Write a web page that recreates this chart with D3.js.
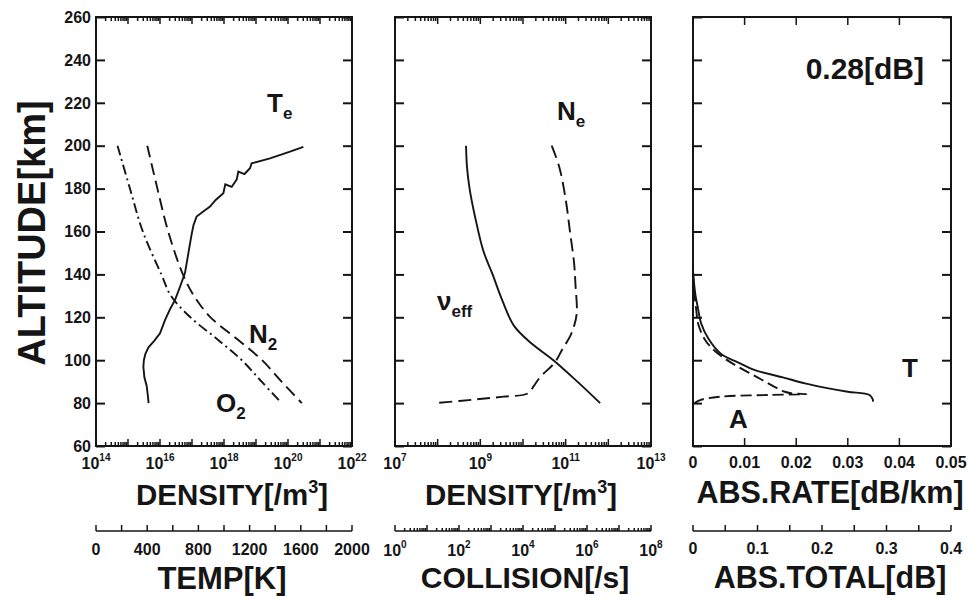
<!DOCTYPE html>
<html>
<head>
<meta charset="utf-8">
<script src="https://cdn.jsdelivr.net/npm/d3@7"></script>
<style>
    body { margin: 0; background: #fff; }
    svg text { font-family: "Liberation Sans", Arial, Helvetica, sans-serif; font-weight: bold; fill: #151515; }
</style>
</head>
<body>
<div id="chart"></div>
<script>
// altitude [km], shared by all three panels
const altTicks = [60, 80, 100, 120, 140, 160, 180, 200, 220, 240, 260];

// panel 1 : N2 / O2 density [/m3] and electron temperature [K]
const n2Alt = [200, 180, 160, 140, 130, 120, 110, 100, 90, 80];
const n2Dens = [4.0e15, 8.3e15, 1.8e16, 5.2e16, 1.15e17, 3.8e17, 2.5e18, 1.55e19, 6.3e19, 2.7e20];
const o2Alt = [200, 180, 160, 140, 130, 120, 110, 100, 90, 80];
const o2Dens = [4.7e14, 1.15e15, 2.9e15, 1.1e16, 2.2e16, 8.9e16, 5.9e17, 3.6e18, 1.5e19, 6.3e19];
const teAlt = [80, 84, 88, 92, 97, 100, 103, 106, 109, 112.5, 118.7, 124, 128, 134, 140.6, 150, 159, 163, 167, 169, 171.6,
    174.7, 177.8, 182, 180.8, 184.2, 187.9, 186.8, 189.5, 191.8, 194.1, 197.2, 199.5];
const teTemp = [411, 404, 396, 378, 370, 374, 386, 410, 455, 500, 539, 580, 617, 655, 695, 722, 748, 762, 786, 830, 891,
    935, 995, 1010, 1060, 1099, 1112, 1160, 1203, 1216, 1359, 1516, 1620];

// panel 2 : electron density [/m3] and collision frequency [/s]
const neAlt = [200, 190, 175, 160, 145, 135, 122, 116, 111, 105, 99, 92, 88, 84.5, 83, 82, 81, 80];
const neDens = [4.7e10, 7.1e10, 1.0e11, 1.26e11, 1.58e11, 1.7e11, 1.82e11, 1.58e11, 1.26e11, 8.3e10, 5.6e10,
    2.5e10, 1.8e10, 1.3e10, 3.5e9, 1.1e9, 3.2e8, 8.7e7];
const nuAlt = [200, 190, 180, 167, 151, 140, 128, 116, 108, 100, 90, 80];
const nuColl = [166, 178, 214, 316, 575, 1.12e3, 2.24e3, 5.25e3, 1.78e4, 8.9e4, 5.0e5, 2.57e6];

// panel 3 : absorption rate [dB/km], total (T) and A
const totAlt = [142, 136, 130, 125, 117, 110, 103, 99, 95.4, 92, 89.2, 87, 85.3, 83.8, 82, 80.7];
const totRate = [0, 0.0002, 0.0005, 0.0009, 0.0016, 0.003, 0.0054, 0.0087, 0.012, 0.0174, 0.0217, 0.026, 0.030,
    0.0342, 0.0348, 0.0349];
const aAlt = [140, 130, 124, 117, 110, 106, 101, 97, 92, 87.6, 85.3, 84.6, 84.2, 83.8, 83, 81.5, 80];
const aRate = [0, 0.0003, 0.0006, 0.001, 0.0022, 0.0035, 0.006, 0.0087, 0.0125, 0.0158, 0.0178, 0.019, 0.022,
    0.015, 0.0054, 0.0015, 0.0003];

// tick labels
const den1Labels = [1e14, 1e16, 1e18, 1e20, 1e22];
const den2Labels = [1e7, 1e9, 1e11, 1e13];
const collLabels = [1e0, 1e2, 1e4, 1e6, 1e8];
const tempTicks = [0, 200, 400, 600, 800, 1000, 1200, 1400, 1600, 1800, 2000];
const tempLabels = [0, 400, 800, 1200, 1600, 2000];
const rateTicks = [0.01, 0.02, 0.03, 0.04];
const rateLabels = [0, 0.01, 0.02, 0.03, 0.04, 0.05];
const totTicks = [0, 0.05, 0.1, 0.15, 0.2, 0.25, 0.3, 0.35, 0.4];
const totLabels = [0, 0.1, 0.2, 0.3, 0.4];
const totalText = "0.28[dB]";


let width = 971, height = 596;
let plotTop = 17, plotBottom = 446, axis2Y = 531;

let svg = d3.select("#chart").append("svg")
    .attr("width", width)
    .attr("height", height);

let y = d3.scaleLinear().domain([60, 260]).range([plotBottom, plotTop]);

let panels = [
    { x0: 96, x1: 352 },
    { x0: 395, x1: 651 },
    { x0: 693, x1: 951 }
];

let xDen1 = d3.scaleLog().domain([1e14, 1e22]).range([panels[0].x0, panels[0].x1]);
let xTemp = d3.scaleLinear().domain([0, 2000]).range([panels[0].x0, panels[0].x1]);
let xDen2 = d3.scaleLog().domain([1e7, 1e13]).range([panels[1].x0, panels[1].x1]);
let xColl = d3.scaleLog().domain([1, 1e8]).range([panels[1].x0, panels[1].x1]);
let xRate = d3.scaleLinear().domain([0, 0.05]).range([panels[2].x0, panels[2].x1]);
let xTot = d3.scaleLinear().domain([0, 0.4]).range([panels[2].x0, panels[2].x1]);

const ink = "#151515";

// frames and altitude ticks
panels.forEach(p => {
    svg.append("rect")
        .attr("x", p.x0).attr("y", plotTop)
        .attr("width", p.x1 - p.x0).attr("height", plotBottom - plotTop)
        .attr("fill", "none").attr("stroke", ink).attr("stroke-width", 2);

    svg.append("g")
        .attr("transform", `translate(${p.x0},0)`)
        .call(d3.axisLeft(y).tickValues(altTicks).tickSize(-9).tickFormat(""))
        .call(g => g.select(".domain").remove());

    svg.append("g")
        .attr("transform", `translate(${p.x1},0)`)
        .call(d3.axisRight(y).tickValues(altTicks).tickSize(-9).tickFormat(""))
        .call(g => g.select(".domain").remove());
});
svg.selectAll(".tick line").attr("stroke", ink).attr("stroke-width", 2);

// altitude labels
svg.append("g").selectAll("text")
    .data(altTicks)
    .enter().append("text")
    .attr("x", 91)
    .attr("y", d => y(d))
    .attr("dy", "0.36em")
    .attr("text-anchor", "end")
    .style("font-size", "16px")
    .text(d => d);

svg.append("text")
    .attr("transform", `translate(45, 233) rotate(-90)`)
    .attr("text-anchor", "middle")
    .style("font-size", "38px")
    .text("ALTITUDE[km]");

function isDecade(d) {
    let l = Math.log10(d);
    return Math.abs(l - Math.round(l)) < 1e-6;
}

// log ticks on top and bottom frame edges
function logFrameTicks(scale) {
    let ticks = scale.ticks();
    svg.append("g").selectAll("line")
        .data(ticks)
        .enter().append("line")
        .attr("x1", d => scale(d)).attr("x2", d => scale(d))
        .attr("y1", plotTop).attr("y2", d => plotTop + (isDecade(d) ? 7 : 4))
        .attr("stroke", ink).attr("stroke-width", 1.5);
    svg.append("g").selectAll("line")
        .data(ticks)
        .enter().append("line")
        .attr("x1", d => scale(d)).attr("x2", d => scale(d))
        .attr("y1", plotBottom).attr("y2", d => plotBottom - (isDecade(d) ? 7 : 4))
        .attr("stroke", ink).attr("stroke-width", 1.5);
}
logFrameTicks(xDen1);
logFrameTicks(xDen2);

// linear ticks on the rate panel
[plotTop, plotBottom].forEach(edge => {
    svg.append("g").selectAll("line")
        .data(rateTicks)
        .enter().append("line")
        .attr("x1", d => xRate(d)).attr("x2", d => xRate(d))
        .attr("y1", edge).attr("y2", edge + (edge === plotTop ? 8 : -8))
        .attr("stroke", ink).attr("stroke-width", 1.5);
});

// labels with powers of ten
function powLabels(scale, values, yPos) {
    let t = svg.append("g").selectAll("text")
        .data(values)
        .enter().append("text")
        .attr("x", d => scale(d))
        .attr("y", yPos)
        .attr("text-anchor", "middle")
        .style("font-size", "16px");
    t.append("tspan").text("10");
    t.append("tspan")
        .attr("dy", -8)
        .style("font-size", "10px")
        .text(d => Math.round(Math.log10(d)));
}

function plainLabels(scale, values, yPos) {
    svg.append("g").selectAll("text")
        .data(values)
        .enter().append("text")
        .attr("x", d => scale(d))
        .attr("y", yPos)
        .attr("text-anchor", "middle")
        .style("font-size", "16px")
        .text(d => d);
}

powLabels(xDen1, den1Labels, 469);
powLabels(xDen2, den2Labels, 469);
plainLabels(xRate, rateLabels, 468);

// secondary axes below the panels
function secondAxis(scale, ticks, log) {
    let r = scale.range();
    svg.append("line")
        .attr("x1", r[0]).attr("x2", r[1])
        .attr("y1", axis2Y).attr("y2", axis2Y)
        .attr("stroke", ink).attr("stroke-width", 1.5);
    svg.append("g").selectAll("line")
        .data(ticks)
        .enter().append("line")
        .attr("x1", d => scale(d)).attr("x2", d => scale(d))
        .attr("y1", axis2Y)
        .attr("y2", d => axis2Y - (log ? (isDecade(d) ? 6 : 3) : 6))
        .attr("stroke", ink).attr("stroke-width", 1.5);
}
secondAxis(xTemp, tempTicks, false);
secondAxis(xColl, xColl.ticks(), true);
secondAxis(xTot, totTicks, false);

plainLabels(xTemp, tempLabels, 555);
powLabels(xColl, collLabels, 556);
plainLabels(xTot, totLabels, 554);

// axis titles
function title(x, yPos, size, main, sup, tail) {
    let t = svg.append("text")
        .attr("x", x).attr("y", yPos)
        .attr("text-anchor", "middle")
        .style("font-size", size + "px");
    t.append("tspan").text(main);
    if (sup) {
        t.append("tspan").attr("dy", -12).style("font-size", "18px").text(sup);
        t.append("tspan").attr("dy", 12).text(tail);
    }
}
title(232, 505, 29.5, "DENSITY[/m", "3", "]");
title(521, 505, 29.5, "DENSITY[/m", "3", "]");
title(830, 503, 30.5, "ABS.RATE[dB/km]");
title(222, 589, 31, "TEMP[K]");
title(525, 588, 30, "COLLISION[/s]");
title(830, 588, 30.5, "ABS.TOTAL[dB]");

// curves
function curve(xs, alts, scale, dash, smooth) {
    let pts = alts.map((a, i) => [scale(xs[i]), y(a)]);
    let line = d3.line();
    if (smooth) line.curve(d3.curveCatmullRom.alpha(0.5));
    svg.append("path")
        .attr("d", line(pts))
        .attr("fill", "none")
        .attr("stroke", ink)
        .attr("stroke-width", 1.9)
        .attr("stroke-dasharray", dash || null);
}
curve(teTemp, teAlt, xTemp);
curve(n2Dens, n2Alt, xDen1, "12 6", true);
curve(o2Dens, o2Alt, xDen1, "10 4 2 4", true);
curve(neDens, neAlt, xDen2, "13 6", true);
curve(nuColl, nuAlt, xColl, null, true);
curve(totRate, totAlt, xRate, null, true);
curve(aRate, aAlt, xRate, "11 5", true);

// curve labels
function label(x, yPos, main, sub, size) {
    let t = svg.append("text")
        .attr("x", x).attr("y", yPos)
        .style("font-size", (size || 26) + "px");
    t.append("tspan").text(main);
    if (sub) {
        t.append("tspan").attr("dy", 7).style("font-size", "17px").text(sub);
    }
}
label(267, 112, "T", "e");
label(249, 343, "N", "2");
label(216, 412, "O", "2");
label(557, 120, "N", "e");
label(437, 310, "ν", "eff");
label(902, 377, "T");
label(729, 428, "A");

svg.append("text")
    .attr("x", 924).attr("y", 79)
    .attr("text-anchor", "end")
    .style("font-size", "30px")
    .text(totalText);
</script>
</body>
</html>
